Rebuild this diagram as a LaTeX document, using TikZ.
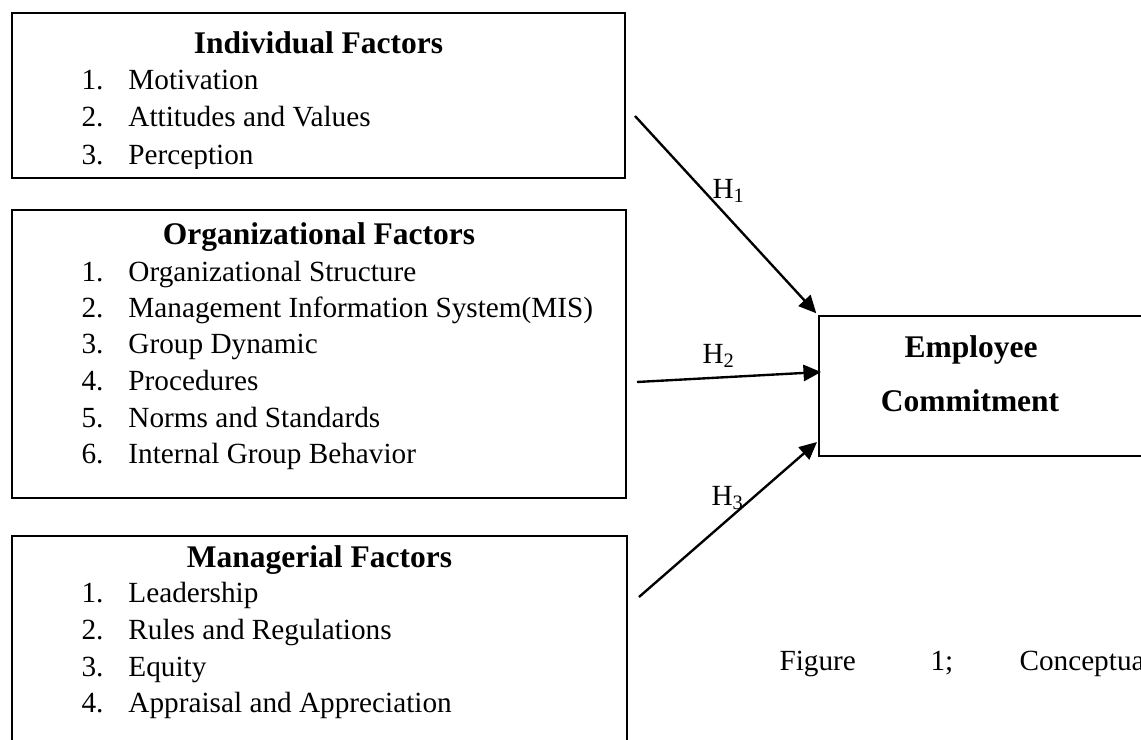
\documentclass[tikz,border=0pt]{standalone}
\usepackage{fontspec}
\setmainfont{Liberation Serif}
\usetikzlibrary{arrows.meta}

\newcommand{\itemnum}[1]{\makebox[18.8pt][l]{#1}}

\tikzset{
  factorbox/.style={rectangle, draw=black, line width=0.6pt, inner sep=0pt},
  boxtitle/.style={anchor=base, inner sep=0pt, font=\fontsize{12.6}{15}\selectfont\bfseries},
  listitem/.style={anchor=base west, inner sep=0pt, font=\fontsize{11.7}{14}\selectfont},
  hlabel/.style={anchor=base west, inner sep=0pt, font=\fontsize{11.7}{14}\selectfont},
  link/.style={-{Triangle[length=7pt,width=6.5pt]}, line width=0.95pt}
}

\begin{document}
\begin{tikzpicture}[x=0.4pt, y=-0.4pt]
\clip (0,0) rectangle (1141,740);

% factor boxes
\node (indiv) [factorbox, minimum width=245.2pt, minimum height=66pt] at (318.5,95.5) {};
\node (organ) [factorbox, minimum width=245.6pt, minimum height=115.2pt] at (319,354) {};
\node (manag) [factorbox, minimum width=246pt, minimum height=89.6pt] at (319.5,648) {};
\node (commit) [factorbox, minimum width=136.4pt, minimum height=56pt] at (989.5,386) {};

% individual factors
\node (indivtitle) [boxtitle] at (318.5,53) {Individual Factors};
\begin{scope}
\clip (12,13) rectangle (625,168);
\node (indiv1) [listitem] at (81,89) {\itemnum{1.}Motivation};
\node (indiv2) [listitem] at (81,126) {\itemnum{2.}Attitudes and Values};
\node (indiv3) [listitem] at (81,164.5) {\itemnum{3.}Perception};
\end{scope}

% organizational factors
\node (organtitle) [boxtitle] at (319,244) {Organizational Factors};
\node (organ1) [listitem] at (81,281) {\itemnum{1.}Organizational Structure};
\node (organ2) [listitem] at (81,317) {\itemnum{2.}Management Information System(MIS)};
\node (organ3) [listitem] at (81,353.5) {\itemnum{3.}Group Dynamic};
\node (organ4) [listitem] at (81,390.5) {\itemnum{4.}Procedures};
\node (organ5) [listitem] at (81,427) {\itemnum{5.}Norms and Standards};
\node (organ6) [listitem] at (81,463.5) {\itemnum{6.}Internal Group Behavior};

% managerial factors
\node (managtitle) [boxtitle] at (319.5,567) {Managerial Factors};
\node (manag1) [listitem] at (81,602.5) {\itemnum{1.}Leadership};
\node (manag2) [listitem] at (81,639) {\itemnum{2.}Rules and Regulations};
\node (manag3) [listitem] at (81,676) {\itemnum{3.}Equity};
\node (manag4) [listitem] at (81,712) {\itemnum{4.}Appraisal and Appreciation};

% employee commitment
\node (committop) [boxtitle] at (971,357) {Employee};
\node (commitbot) [boxtitle] at (970,411) {Commitment};

% hypothesis arrows
\coordinate (h1start) at (635,116);
\coordinate (h2start) at (637,382);
\coordinate (h3start) at (639,597);
\coordinate (h2end) at (821,372);
\coordinate (h3end) at (817,442);
\draw[link] (h1start) -- ([shift={(-2,-2)}]commit.north west);
\draw[link] (h2start) -- (h2end);
\draw[link] (h3start) -- (h3end);

\node (h1label) [hlabel] at (712,198) {H\textsubscript{1}};
\node (h2label) [hlabel] at (702,363) {H\textsubscript{2}};
\node (h3label) [hlabel] at (711,505) {H\textsubscript{3}};

% caption
\node (capfig) [listitem] at (779,670) {Figure};
\node (capnum) [listitem] at (930,670) {1;};
\node (capword) [listitem] at (1019,670) {Conceptual};
\end{tikzpicture}
\end{document}
